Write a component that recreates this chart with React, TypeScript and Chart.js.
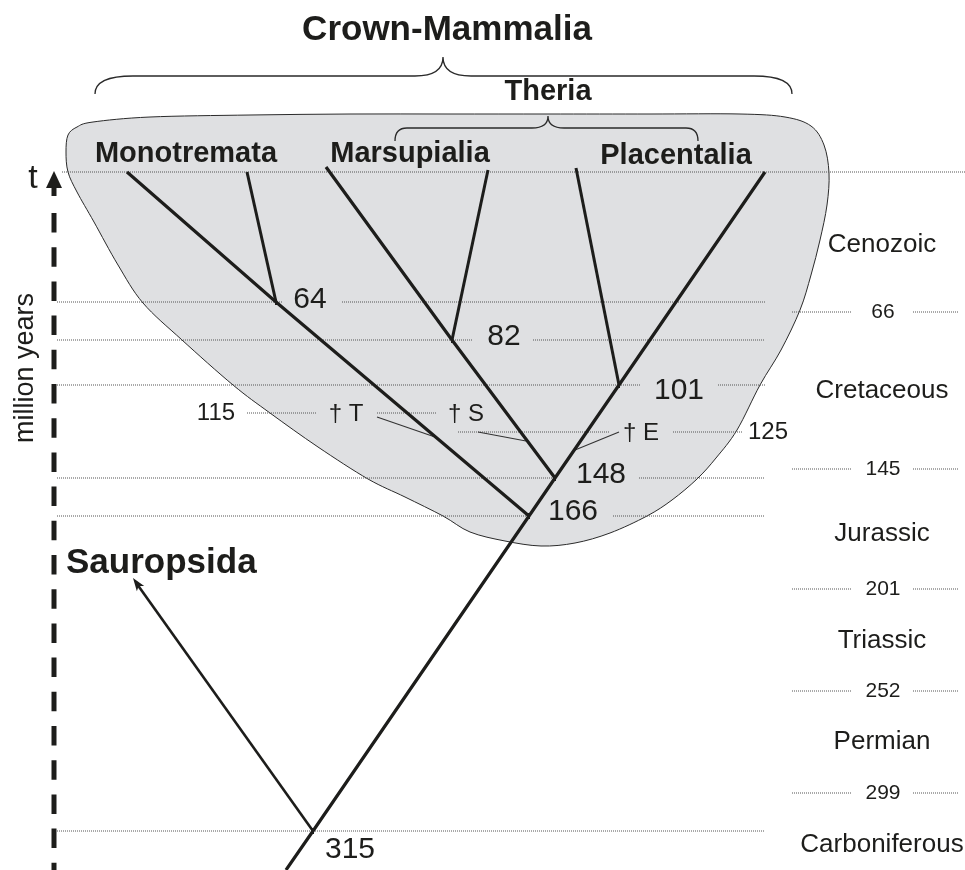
import React, { useEffect, useRef } from "react";
import { Chart, registerables } from "chart.js";

Chart.register(...registerables);

type P = [number, number];

// ---------- DATA (tree layout units: x across, y down the time axis) ----------
// Divergence ages (Ma) of the labelled nodes and where they sit in the tree
const nodeAges = [64, 82, 101, 148, 166, 315];
const nodeLayout: P[] = [[276, 302], [452, 340], [619, 385], [555, 478], [529, 516], [313, 831]];

// Branches
const trunk: P[] = [[286, 870], [313, 831], [529, 516], [555, 478], [619, 385], [765, 172]];
const monotremeStem: P[] = [[529, 516], [276, 302], [127, 172]];
const monotremeTip: P[] = [[276, 302], [247, 172]];
const marsupialStem: P[] = [[555, 478], [452, 340], [326, 167]];
const marsupialTip: P[] = [[452, 340], [488, 170]];
const placentalTip: P[] = [[619, 385], [576, 168]];
const sauropsidBranch: P[] = [[313, 831], [137, 584]];

// Extinct lineages († T, † S, † E) and their ages
const extinctTaxa = ["T", "S", "E"];
const extinctAges = [115, 115, 125];
const extinctStubs: P[][] = [
  [[377, 417], [435, 437]],
  [[478, 432], [526, 441]],
  [[619, 432], [575, 450]],
];

// Dotted time guides
const guideLabels = ["t", "64", "82", "101", "115", "125", "148", "166", "315"];
const guideY = [172, 302, 340, 385, 413, 432, 478, 516, 831];
const guideSegments: P[][] = [
  [[62, 965]],
  [[57, 283], [342, 765]],
  [[57, 473], [533, 765]],
  [[57, 640], [718, 765]],
  [[247, 316], [377, 437]],
  [[458, 610], [673, 742]],
  [[57, 553], [639, 765]],
  [[57, 527], [613, 765]],
  [[57, 765]],
];

// Geological periods and their boundaries (Ma)
const eras = ["Cenozoic", "Cretaceous", "Jurassic", "Triassic", "Permian", "Carboniferous"];
const eraY = [252, 398, 541, 648, 749, 852];
const boundaryAges = [66, 145, 201, 252, 299];
const boundaryY = [312, 469, 589, 691, 793];

// Clades
const cladeNames = ["Crown-Mammalia", "Theria", "Monotremata", "Marsupialia", "Placentalia", "Sauropsida"];

// Crown-Mammalia hull outline
const hull: P[] = [
  [66, 152], [68, 135], [77, 127], [93, 122], [150, 117], [250, 115], [350, 114], [450, 114],
  [548, 114], [650, 114], [740, 114], [785, 117], [811, 126], [824, 145], [829, 173], [827, 205],
  [820, 240], [811, 275], [800, 310], [781, 350], [760, 385], [737, 430], [716, 458], [697, 479],
  [672, 500], [647, 516], [610, 533], [575, 543], [541, 546], [505, 541], [470, 532], [443, 516],
  [405, 497], [368, 479], [318, 447], [270, 413], [233, 385], [182, 340], [143, 303], [118, 265],
  [94, 222], [77, 192], [68, 172],
];

// ---------- drawing helpers ----------
const FONT = '"Liberation Sans", Arial, Helvetica, sans-serif';
const INK = "#1d1d1b";

function toPx(chart: any, p: P): P {
  return [chart.scales.x.getPixelForValue(p[0]), chart.scales.y.getPixelForValue(p[1])];
}

function closedSpline(ctx: CanvasRenderingContext2D, pts: P[]) {
  const n = pts.length;
  ctx.moveTo(pts[0][0], pts[0][1]);
  const t = 1 / 6;
  for (let i = 0; i < n; i++) {
    const p0 = pts[(i - 1 + n) % n], p1 = pts[i], p2 = pts[(i + 1) % n], p3 = pts[(i + 2) % n];
    ctx.bezierCurveTo(
      p1[0] + (p2[0] - p0[0]) * t, p1[1] + (p2[1] - p0[1]) * t,
      p2[0] - (p3[0] - p1[0]) * t, p2[1] - (p3[1] - p1[1]) * t,
      p2[0], p2[1]
    );
  }
  ctx.closePath();
}

function brace(ctx: CanvasRenderingContext2D, x0: number, x1: number, xt: number, yEnd: number, yBase: number, yTip: number, r: number, rt: number) {
  ctx.beginPath();
  ctx.moveTo(x0, yEnd);
  ctx.quadraticCurveTo(x0, yBase, x0 + r, yBase);
  ctx.lineTo(xt - rt, yBase);
  ctx.quadraticCurveTo(xt, yBase, xt, yTip);
  ctx.quadraticCurveTo(xt, yBase, xt + rt, yBase);
  ctx.lineTo(x1 - r, yBase);
  ctx.quadraticCurveTo(x1, yBase, x1, yEnd);
  ctx.stroke();
}

function txt(ctx: CanvasRenderingContext2D, s: string, x: number, y: number, font: string, align: CanvasTextAlign = "center", baseline: CanvasTextBaseline = "alphabetic") {
  ctx.font = font;
  ctx.textAlign = align;
  ctx.textBaseline = baseline;
  ctx.fillStyle = INK;
  ctx.fillText(s, x, y);
}

const hullPlugin = {
  id: "hull",
  beforeDatasetsDraw(chart: any) {
    const ctx: CanvasRenderingContext2D = chart.ctx;
    const pts = hull.map((p) => toPx(chart, p));
    ctx.save();
    ctx.beginPath();
    closedSpline(ctx, pts);
    ctx.fillStyle = "#dfe0e2";
    ctx.fill();
    ctx.lineWidth = 1;
    ctx.strokeStyle = "#2a2a2a";
    ctx.stroke();
    ctx.restore();
  },
};

const annotationPlugin = {
  id: "annotations",
  afterDatasetsDraw(chart: any) {
    const ctx: CanvasRenderingContext2D = chart.ctx;
    const X = (v: number) => chart.scales.x.getPixelForValue(v);
    const Y = (v: number) => chart.scales.y.getPixelForValue(v);
    ctx.save();

    // braces
    ctx.strokeStyle = "#2a2a2a";
    ctx.lineWidth = 1.3;
    brace(ctx, X(95), X(792), X(443), Y(94), Y(76), Y(57), 38, 28);
    brace(ctx, X(395), X(698), X(548), Y(141), Y(128), Y(116), 12, 16);

    // arrowheads
    ctx.fillStyle = INK;
    // time axis arrow
    ctx.beginPath();
    ctx.moveTo(X(54), Y(171));
    ctx.lineTo(X(54) + 8, Y(188));
    ctx.lineTo(X(54) - 8, Y(188));
    ctx.closePath();
    ctx.fill();
    // Sauropsida arrow
    {
      const tip = toPx(chart, [133, 578]);
      const base = toPx(chart, sauropsidBranch[0]);
      const dx = base[0] - tip[0], dy = base[1] - tip[1];
      const L = Math.hypot(dx, dy);
      const ux = dx / L, uy = dy / L;
      const len = 13, hw = 4.5;
      ctx.beginPath();
      ctx.moveTo(tip[0], tip[1]);
      ctx.lineTo(tip[0] + ux * len - uy * hw, tip[1] + uy * len + ux * hw);
      ctx.lineTo(tip[0] + ux * len * 0.75, tip[1] + uy * len * 0.75);
      ctx.lineTo(tip[0] + ux * len + uy * hw, tip[1] + uy * len - ux * hw);
      ctx.closePath();
      ctx.fill();
    }

    // small node ticks
    ctx.strokeStyle = INK;
    ctx.lineWidth = 2;
    nodeLayout.forEach(([nx, ny]) => {
      ctx.beginPath();
      ctx.moveTo(X(nx), Y(ny) - 3);
      ctx.lineTo(X(nx), Y(ny) + 3);
      ctx.stroke();
    });

    // clade names
    txt(ctx, cladeNames[0], X(447), Y(40), `bold 35px ${FONT}`);
    txt(ctx, cladeNames[1], X(548), Y(100), `bold 29px ${FONT}`);
    txt(ctx, cladeNames[2], X(186), Y(162), `bold 29px ${FONT}`);
    txt(ctx, cladeNames[3], X(410), Y(162), `bold 29px ${FONT}`);
    txt(ctx, cladeNames[4], X(676), Y(164), `bold 29px ${FONT}`);
    txt(ctx, cladeNames[5], X(66), Y(573), `bold 35px ${FONT}`, "left");

    // axis labels
    txt(ctx, "t", X(33), Y(188), `34px ${FONT}`);
    ctx.save();
    ctx.translate(X(33), Y(368));
    ctx.rotate(-Math.PI / 2);
    txt(ctx, "million years", 0, 0, `27px ${FONT}`);
    ctx.restore();

    // node ages
    const nodeLabelOffsets: P[] = [[34, 6], [52, 5], [60, 14], [46, 5], [44, 4], [37, 27]];
    nodeAges.forEach((a, i) => {
      const [nx, ny] = nodeLayout[i];
      const [ox, oy] = nodeLabelOffsets[i];
      txt(ctx, String(a), X(nx + ox), Y(ny + oy), `30px ${FONT}`);
    });

    // extinct taxa
    txt(ctx, "† " + extinctTaxa[0], X(346), Y(414), `24px ${FONT}`, "center", "middle");
    txt(ctx, "† " + extinctTaxa[1], X(466), Y(414), `24px ${FONT}`, "center", "middle");
    txt(ctx, "† " + extinctTaxa[2], X(641), Y(433), `24px ${FONT}`, "center", "middle");
    txt(ctx, String(extinctAges[0]), X(216), Y(413), `24px ${FONT}`, "center", "middle");
    txt(ctx, String(extinctAges[2]), X(768), Y(432), `24px ${FONT}`, "center", "middle");

    // eras & boundaries
    eras.forEach((e, i) => txt(ctx, e, X(882), Y(eraY[i]), `26px ${FONT}`));
    boundaryAges.forEach((a, i) => txt(ctx, String(a), X(883), Y(boundaryY[i]), `21px ${FONT}`, "center", "middle"));

    ctx.restore();
  },
};

function pts(p: P[]) {
  return p.map(([x, y]) => ({ x, y }));
}

export default function App() {
  const ref = useRef<HTMLCanvasElement | null>(null);

  useEffect(() => {
    document.body.style.margin = "0";
    const canvas = ref.current;
    if (!canvas) return;

    const thick = (p: P[], w = 3) => ({
      data: pts(p), showLine: true, borderColor: INK, borderWidth: w, pointRadius: 0,
      borderCapStyle: "butt", borderJoinStyle: "miter", fill: false, clip: false, order: 1,
    });
    const thin = (p: P[]) => ({
      data: pts(p), showLine: true, borderColor: "#333", borderWidth: 1.1, pointRadius: 0, fill: false, clip: false, order: 2,
    });
    const dotted = (p: P[]) => ({
      data: pts(p), showLine: true, borderColor: "#555", borderWidth: 1, borderDash: [1, 1],
      pointRadius: 0, fill: false, clip: false, order: 3,
    });

    const datasets: any[] = [];
    [trunk, monotremeStem, marsupialStem].forEach((b) => datasets.push(thick(b, 3.2)));
    [monotremeTip, marsupialTip, placentalTip].forEach((b) => datasets.push(thick(b, 3)));
    datasets.push(thick(sauropsidBranch, 2.6));
    extinctStubs.forEach((s) => datasets.push(thin(s)));
    // time axis (dashed) and arrow shaft
    datasets.push({ ...thick([[54, 186], [54, 196]], 5) });
    datasets.push({ ...thick([[54, 213], [54, 880]], 5), borderDash: [19.5, 14.7] });
    guideSegments.forEach((segs, i) =>
      segs.forEach(([a, b]) => datasets.push(dotted([[a, guideY[i]], [b, guideY[i]]])))
    );
    boundaryY.forEach((y) => {
      datasets.push(dotted([[792, y], [851, y]]));
      datasets.push(dotted([[913, y], [958, y]]));
    });

    const chart = new Chart(canvas, {
      type: "scatter",
      data: { datasets },
      options: {
        animation: false,
        responsive: false,
        devicePixelRatio: 1,
        events: [],
        layout: { padding: 0 },
        scales: {
          x: { type: "linear", min: 0, max: 965, display: false },
          y: { type: "linear", min: 0, max: 870, reverse: true, display: false },
        },
        plugins: { legend: { display: false }, tooltip: { enabled: false } },
      },
      plugins: [hullPlugin, annotationPlugin],
    } as any);

    return () => chart.destroy();
  }, []);

  return (
    <div style={{ width: 965, height: 870, background: "#fff" }}>
      <canvas ref={ref} width={965} height={870} style={{ display: "block" }} />
    </div>
  );
}
